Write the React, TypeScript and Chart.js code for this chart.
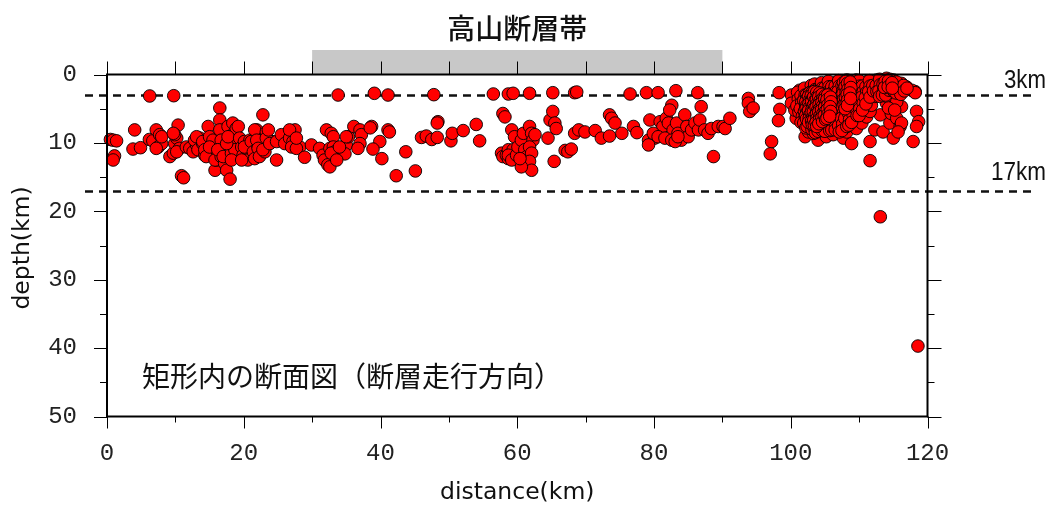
import { useEffect, useRef } from "react";
import { Chart, registerables } from "chart.js";

Chart.register(...registerables);

// Axis ranges and tick labels
const distanceTicks = [0, 20, 40, 60, 80, 100, 120];
const depthTicks = [0, 10, 20, 30, 40, 50];
// Fault zone extent along the strike (km)
const faultZoneKm = [30, 90];
// Seismogenic layer bounds (km)
const referenceDepths = [3, 17];
const referenceLabels = ["3km", "17km"];

// Hypocentres: [distance along strike (km), depth (km)]
const westEvents: [number, number][] = [
  [0.5, 9.5], [0.9, 9.6], [1.4, 9.7], [1.1, 11.9], [0.9, 12.5], [3.8, 10.9], [4.9, 10.7], [4.05, 8.1],
  [6.25, 3.14], [9.76, 3.1],
  [6.2, 9.5], [6.7, 9.7], [7.2, 8.1], [7.7, 8.8], [7.5, 10.6], [8.0, 10.1], [7.2, 10.8], [8.0, 9.1],
  [9.2, 12.0], [9.7, 11.5], [9.9, 10.1], [10.4, 7.4], [10.2, 9.3], [10.6, 10.8], [9.9, 8.8], [9.7, 8.6], [10.2, 11.3],
  [10.9, 14.8], [11.2, 15.1],
  [11.6, 10.6], [12.1, 10.8], [12.6, 11.3], [13.1, 10.3], [12.8, 9.6], [13.6, 9.3], [13.3, 11.0], [14.0, 10.1],
  [14.3, 11.8], [13.1, 9.1], [14.0, 9.8], [14.3, 11.0],
  [14.8, 7.6], [15.0, 9.1], [15.3, 10.3], [15.5, 11.3], [14.5, 12.0], [15.8, 14.0], [16.0, 12.5], [15.8, 12.5],
  [15.5, 9.6], [15.0, 10.6],
  [16.5, 4.9], [16.5, 6.65], [16.7, 8.4], [17.0, 10.1], [16.7, 12.0], [17.2, 13.0], [17.5, 14.0], [16.5, 8.1],
  [16.7, 9.6], [16.2, 11.0], [17.0, 12.0],
  [17.7, 7.6], [18.0, 9.1], [18.2, 10.3], [18.2, 11.5], [18.4, 7.1], [18.7, 8.4], [18.9, 9.6], [18.7, 11.0],
  [18.0, 15.3], [17.5, 10.1], [18.2, 12.5], [18.9, 7.9], [17.7, 9.1],
  [19.2, 7.6], [19.4, 9.3], [19.7, 10.6], [19.9, 11.8], [20.1, 9.8], [20.4, 10.8], [20.6, 12.5], [20.9, 9.6],
  [19.7, 12.5], [20.1, 10.6],
  [21.1, 9.8], [21.4, 11.3], [21.6, 12.3], [21.9, 8.1], [22.1, 10.6], [21.6, 8.1], [21.9, 9.6], [22.1, 10.8], [22.3, 12.0],
  [22.8, 5.9], [23.3, 8.4], [23.6, 9.6], [23.1, 11.3], [24.1, 9.8], [22.8, 11.0], [23.3, 9.3], [23.6, 8.1], [23.8, 10.1],
  [24.8, 12.5], [24.8, 9.8], [25.5, 8.8], [26.0, 10.1], [26.7, 9.3], [27.5, 8.1], [27.2, 9.8], [28.2, 10.6],
  [26.7, 8.1], [27.0, 10.6], [27.7, 10.8], [27.7, 9.3], [28.9, 12.1], [29.9, 10.3],
];

const centralEvents: [number, number][] = [
  [31.1, 10.8], [32.1, 8.1], [32.8, 8.6], [33.1, 9.1], [31.6, 11.8], [31.8, 12.5], [32.3, 13.2], [32.6, 10.8],
  [33.1, 10.6], [33.3, 11.3], [33.8, 11.6], [33.6, 12.0], [34.1, 11.0], [34.5, 10.6], [35.0, 10.3], [35.3, 9.1],
  [34.8, 11.6], [32.6, 13.5], [32.8, 11.5], [33.6, 12.5], [34.0, 10.6], [35.0, 9.1],
  [33.8, 3.0], [39.1, 2.75], [41.1, 3.0],
  [36.1, 7.6], [37.0, 8.1], [37.2, 8.8], [37.0, 10.1], [36.7, 10.8], [38.7, 7.6], [38.5, 7.8], [39.9, 9.8],
  [38.9, 10.9], [40.2, 12.3], [41.1, 8.1], [41.3, 8.4], [43.7, 11.3], [42.3, 14.8], [45.1, 14.1],
  [46.0, 9.2], [46.7, 9.0], [47.5, 9.5], [48.3, 9.2], [48.4, 6.9], [48.3, 7.1], [47.8, 2.95], [50.3, 9.7],
  [50.5, 8.6], [52.1, 8.2], [54.0, 7.3], [54.5, 9.7], [56.5, 2.85], [58.7, 2.85], [57.9, 5.7], [58.2, 6.2],
  [57.7, 11.5], [57.9, 12.0], [58.4, 11.8], [58.7, 12.3], [58.7, 11.0],
  [59.2, 8.1], [59.6, 9.1], [59.4, 11.0], [58.7, 11.8], [59.2, 12.5], [59.9, 11.8], [60.1, 10.6], [60.6, 9.6],
  [60.9, 8.6], [61.1, 11.0], [61.4, 12.0], [61.1, 13.0], [61.8, 7.6], [62.1, 8.6], [62.3, 9.6], [61.8, 10.6],
  [62.1, 11.5], [61.8, 12.7], [62.1, 14.0], [60.6, 13.5], [60.4, 12.3], [62.6, 8.8], [59.4, 2.75], [61.8, 2.75],
  [64.5, 9.3], [64.8, 6.65], [65.2, 5.4], [65.5, 7.1], [65.7, 7.9], [65.4, 12.7], [65.2, 2.66], [67.0, 11.1],
  [67.4, 11.3], [67.9, 10.9], [68.4, 2.66], [68.7, 2.56],
  [68.4, 8.6], [69.0, 8.1], [69.9, 8.4], [71.4, 8.2], [72.3, 9.3], [73.5, 9.0], [75.3, 8.6], [73.5, 5.9],
  [73.8, 6.4], [74.3, 7.1], [76.5, 2.85], [77.0, 7.6], [77.5, 8.5], [78.9, 2.66], [79.4, 6.65], [79.2, 9.6],
  [80.1, 9.3], [79.2, 10.3], [80.6, 2.66],
  [80.9, 6.9], [81.3, 7.6], [81.8, 6.4], [82.1, 7.1], [82.6, 4.5], [82.3, 5.2], [82.8, 8.1], [83.3, 7.1],
  [83.5, 8.6], [84.0, 9.6], [84.5, 5.9], [84.8, 7.6], [85.0, 9.1], [85.5, 8.1], [86.0, 7.1], [86.5, 8.1],
  [86.7, 6.65], [86.9, 4.7], [87.4, 8.1], [87.9, 8.6], [88.4, 7.9], [89.4, 7.6], [90.1, 7.6], [88.7, 12.0],
  [83.2, 2.37], [86.4, 2.66],
  [79.9, 8.6], [80.6, 9.1], [81.6, 9.3], [82.6, 9.6], [83.1, 9.8], [83.5, 9.1],
];

const eastEvents: [number, number][] = [
  [90.4, 7.9], [91.1, 6.4], [93.8, 3.5], [93.8, 4.2], [94.0, 5.4], [94.5, 4.9], [97.2, 9.8], [97.0, 11.6],
  [98.3, 2.66], [98.4, 5.1], [98.2, 6.75], [100.6, 3.0], [100.4, 4.2], [100.8, 6.4],
  [111.6, 9.8], [111.6, 12.6], [113.1, 20.8], [118.6, 39.7],
  [113.1, 5.9], [112.3, 8.1], [113.5, 8.4], [115.0, 9.3], [114.5, 7.1], [114.7, 5.7], [115.5, 6.4], [116.0, 7.6],
  [116.2, 4.7], [116.2, 7.1], [115.7, 8.4], [117.9, 9.8], [118.4, 5.4], [118.7, 6.9], [118.4, 7.6], [118.2, 2.5],
  [114.0, 4.2], [114.5, 3.7], [115.0, 3.2], [115.5, 4.0], [114.3, 4.9], [115.2, 5.2],
  [102.1, 9.1], [102.6, 8.4], [104.0, 9.6], [103.3, 8.6], [105.2, 9.1], [106.2, 8.8], [107.7, 9.3], [108.9, 10.1],
  [108.2, 8.4], [109.6, 7.9], [110.4, 7.1], [111.1, 6.2], [111.6, 5.4], [111.8, 4.5], [112.3, 3.2],
  [104.3, 1.5], [105.2, 1.3], [106.5, 1.2], [108.2, 0.8], [109.6, 0.8], [111.1, 1.05], [112.6, 0.8], [114.0, 0.55],
  [115.0, 0.8], [116.2, 1.3], [116.9, 1.8], [117.7, 2.3], [118.2, 2.66],
  [100.1, 3.0], [101.3, 2.3], [102.6, 2.3], [103.3, 1.8], [100.1, 4.2], [100.6, 5.2],
];

// Swarm in the eastern segment
const swarmEvents: [number, number][] = [
  [101.0, 2.6], [101.1, 3.6], [100.9, 4.6], [101.2, 5.5],
  [101.5, 3.1], [101.6, 4.1], [101.4, 5.0], [101.7, 6.1], [101.5, 7.0],
  [102.0, 2.0], [102.1, 3.0], [101.9, 3.8], [102.2, 4.6], [102.0, 5.4], [102.1, 6.2], [101.9, 7.1], [102.2, 7.8],
  [102.5, 2.9], [102.6, 3.6], [102.4, 4.4], [102.7, 5.2], [102.5, 6.0], [102.6, 6.8], [102.4, 7.6],
  [103.0, 1.6], [103.1, 2.4], [102.9, 3.1], [103.2, 3.8], [103.0, 4.5], [103.1, 5.2], [102.9, 5.9], [103.2, 6.6],
  [103.0, 7.3], [103.1, 8.0],
  [103.5, 1.4], [103.6, 2.2], [103.4, 3.0], [103.6, 3.6], [103.5, 4.2], [103.7, 4.8], [103.4, 5.4], [103.6, 6.0],
  [103.5, 6.6], [103.7, 7.2], [103.4, 7.8], [103.6, 8.5],
  [104.0, 2.1], [104.1, 2.9], [103.9, 3.5], [104.2, 4.1], [104.0, 4.7], [104.1, 5.3], [103.9, 5.9], [104.2, 6.5],
  [104.0, 7.1], [104.1, 7.7], [104.0, 8.3],
  [104.5, 1.2], [104.6, 2.0], [104.4, 2.8], [104.6, 3.4], [104.5, 4.0], [104.7, 4.6], [104.4, 5.2], [104.6, 5.8],
  [104.5, 6.4], [104.7, 7.0], [104.4, 7.6], [104.6, 8.2],
  [105.0, 1.9], [105.1, 2.7], [104.9, 3.3], [105.2, 3.9], [105.0, 4.5], [105.1, 5.1], [104.9, 5.7], [105.2, 6.3],
  [105.0, 6.9], [105.1, 7.5], [105.0, 8.3],
  [105.5, 1.0], [105.6, 1.8], [105.4, 2.6], [105.6, 3.4], [105.5, 4.2], [105.7, 5.0], [105.4, 5.8], [105.6, 6.6],
  [105.5, 7.4], [105.7, 8.2],
  [106.0, 1.8], [106.1, 2.6], [105.9, 3.4], [106.2, 4.2], [106.0, 5.0], [106.1, 5.8], [105.9, 6.6], [106.2, 7.4], [106.0, 8.1],
  [106.5, 1.7], [106.6, 2.5], [106.4, 3.3], [106.6, 4.1], [106.5, 4.9], [106.7, 5.7], [106.4, 6.5], [106.6, 7.3], [106.5, 8.1],
  [107.0, 0.9], [107.1, 1.7], [106.9, 2.5], [107.2, 3.3], [107.0, 4.1], [107.1, 4.9], [106.9, 5.7], [107.2, 6.5],
  [107.0, 7.5], [107.1, 8.4],
  [107.5, 1.6], [107.6, 2.4], [107.4, 3.2], [107.6, 4.0], [107.5, 4.8], [107.7, 5.6], [107.4, 6.4], [107.6, 7.2], [107.5, 8.2],
  [108.0, 1.6], [108.1, 2.4], [107.9, 3.2], [108.2, 4.0], [108.0, 4.8], [108.1, 5.6], [107.9, 6.4], [108.2, 7.6],
  [108.5, 0.9], [108.6, 1.6], [108.4, 2.4], [108.6, 3.2], [108.5, 4.0], [108.7, 4.8], [108.4, 5.6], [108.6, 6.6], [108.5, 7.4],
  [109.0, 1.6], [109.1, 2.4], [108.9, 3.2], [109.2, 4.0], [109.0, 4.8], [109.1, 5.8], [108.9, 7.0],
  [109.5, 1.6], [109.6, 2.4], [109.4, 3.2], [109.6, 4.0], [109.5, 5.0], [109.7, 6.0],
  [110.0, 0.9], [110.1, 1.7], [109.9, 2.5], [110.2, 3.3], [110.0, 4.1], [110.1, 5.0], [110.0, 6.0],
  [110.5, 1.7], [110.6, 2.5], [110.4, 3.3], [110.6, 4.2], [110.5, 5.2],
  [111.0, 1.8], [111.1, 2.6], [110.9, 3.4], [111.0, 4.3],
  [111.5, 0.9], [111.6, 1.7], [111.4, 2.5], [111.6, 3.3],
  [112.0, 1.6], [112.1, 2.4], [112.5, 1.6], [112.6, 2.5],
  [113.0, 0.7], [113.1, 1.5], [112.9, 2.4], [113.0, 3.2],
  [113.5, 1.4], [113.6, 2.2], [113.4, 3.0],
  [114.0, 1.4], [114.1, 2.2], [113.9, 3.0],
  [114.5, 0.7], [114.6, 1.5], [114.4, 2.3],
  [115.0, 1.7], [115.1, 2.5], [115.5, 1.1], [115.6, 1.9], [115.4, 2.7],
  [116.0, 2.1], [116.1, 2.9], [116.5, 1.6], [116.6, 2.4], [117.0, 2.0],
];

// Densest part of the swarm
const swarmCoreEvents: [number, number][] = [
  [102.3, 3.0], [102.4, 3.5], [102.2, 4.0], [102.35, 4.5], [102.25, 5.0], [102.4, 5.5], [102.2, 6.0], [102.3, 6.5],
  [102.75, 2.7], [102.6, 3.2], [102.8, 3.7], [102.65, 4.3], [102.75, 4.8], [102.6, 5.3], [102.8, 5.9], [102.7, 6.4], [102.6, 7.0],
  [103.15, 2.6], [103.0, 3.1], [103.2, 3.5], [103.05, 4.0], [103.25, 4.6], [103.1, 5.1], [103.0, 5.6], [103.2, 6.2],
  [103.05, 6.8], [103.15, 7.3],
  [103.45, 2.5], [103.35, 3.3], [103.55, 3.8], [103.4, 4.4], [103.5, 4.9], [103.3, 5.5], [103.5, 6.1], [103.35, 6.7], [103.45, 7.4],
  [103.8, 2.6], [103.9, 3.2], [103.75, 3.7], [103.85, 4.3], [103.7, 4.8], [103.9, 5.3], [103.75, 5.8], [103.85, 6.4],
  [103.7, 7.0], [103.8, 7.6],
  [104.25, 2.7], [104.1, 3.3], [104.3, 3.8], [104.15, 4.4], [104.25, 5.0], [104.1, 5.5], [104.3, 6.0], [104.2, 6.6], [104.1, 7.2],
  [104.6, 2.9], [104.7, 3.5], [104.55, 4.1], [104.65, 4.6], [104.5, 5.2], [104.7, 5.7], [104.55, 6.3], [104.65, 6.9],
  [105.05, 3.1], [104.95, 3.6], [105.1, 4.2], [104.95, 4.8], [105.05, 5.4], [104.9, 6.0], [105.1, 6.6],
  [105.4, 3.0], [105.3, 3.7], [105.45, 4.4], [105.35, 5.1], [105.45, 5.8], [105.3, 6.4],
  [105.8, 3.3], [105.9, 4.0], [105.75, 4.7], [105.85, 5.4], [105.7, 6.1],
  [107.7, 1.2], [107.8, 2.0], [107.65, 2.8], [107.75, 3.6], [107.8, 4.4],
  [108.05, 1.0], [107.95, 1.8], [108.1, 2.6], [108.0, 3.4], [108.1, 4.2], [107.95, 5.0],
  [108.3, 1.3], [108.4, 2.1], [108.25, 2.9], [108.35, 3.7], [108.3, 4.5],
  [108.7, 1.1], [108.8, 1.9], [108.65, 2.7], [108.75, 3.5],
  [113.8, 1.0], [113.7, 1.9], [114.3, 0.9], [114.25, 1.8], [114.8, 1.2], [114.85, 2.0],
];

const allEvents = [...westEvents, ...centralEvents, ...eastEvents, ...swarmEvents, ...swarmCoreEvents];

const CJK = "'Noto Sans CJK JP', 'Noto Sans', sans-serif";
const MONO = "'Liberation Mono', 'DejaVu Sans Mono', monospace";

const sectionDecor = {
  id: "sectionDecor",
  beforeDatasetsDraw(chart: any) {
    const { ctx, chartArea: a, scales } = chart;
    const xs = scales.x;
    const ys = scales.y;
    ctx.save();
    // fault zone bar above the frame
    const bx0 = xs.getPixelForValue(faultZoneKm[0]);
    const bx1 = xs.getPixelForValue(faultZoneKm[1]);
    ctx.fillStyle = "#c8c8c8";
    ctx.fillRect(bx0, a.top - 24.5, bx1 - bx0, 24.5);
    // dashed reference depths
    ctx.strokeStyle = "#111";
    ctx.lineWidth = 2.5;
    ctx.setLineDash([8, 6]);
    referenceDepths.forEach((d) => {
      const py = Math.round(ys.getPixelForValue(d)) + 0.5;
      ctx.beginPath();
      ctx.moveTo(85, py);
      ctx.lineTo(1037, py);
      ctx.stroke();
    });
    ctx.restore();
  },
  afterDatasetsDraw(chart: any) {
    const { ctx, chartArea: a, scales } = chart;
    const xs = scales.x;
    const ys = scales.y;
    ctx.save();
    // frame
    ctx.strokeStyle = "#000";
    ctx.lineWidth = 2;
    ctx.strokeRect(a.left, a.top, a.right - a.left, a.bottom - a.top);
    // ticks
    ctx.lineWidth = 1;
    ctx.beginPath();
    for (let v = 0; v <= 120; v += 10) {
      const px = Math.round(xs.getPixelForValue(v)) + 0.5;
      const major = v % 20 === 0;
      ctx.moveTo(px, a.bottom);
      ctx.lineTo(px, a.bottom + (major ? 12 : 6));
      ctx.moveTo(px, a.top);
      ctx.lineTo(px, a.top - 13);
    }
    for (let d = 0; d <= 50; d += 5) {
      const py = Math.round(ys.getPixelForValue(d)) + 0.5;
      const major = d % 10 === 0;
      ctx.moveTo(a.left, py);
      ctx.lineTo(a.left - (major ? 13 : 7), py);
      ctx.moveTo(a.right, py);
      ctx.lineTo(a.right + (major ? 14 : 7), py);
    }
    ctx.stroke();

    ctx.fillStyle = "#111";
    // title
    ctx.font = `500 28px ${CJK}`;
    ctx.textAlign = "center";
    ctx.textBaseline = "middle";
    ctx.fillText("高山断層帯", (a.left + a.right) / 2, 28);
    // axis titles
    ctx.font = `23.5px 'DejaVu Sans', sans-serif`;
    ctx.fillText("distance(km)", (a.left + a.right) / 2, 493);
    ctx.save();
    ctx.translate(23, 248);
    ctx.rotate(-Math.PI / 2);
    ctx.fillText("depth(km)", 0, 0);
    ctx.restore();
    // annotation
    ctx.font = `28px ${CJK}`;
    ctx.textAlign = "left";
    ctx.fillText("矩形内の断面図（断層走行方向）", 142, 376);
    // reference depth labels
    ctx.font = `26px 'Liberation Sans', sans-serif`;
    ctx.textAlign = "right";
    ctx.textBaseline = "alphabetic";
    ctx.fillText(referenceLabels[0], 1046, 88, 42);
    ctx.fillText(referenceLabels[1], 1046, 180, 55);
    ctx.restore();
  },
};

export default function App() {
  const canvasRef = useRef<HTMLCanvasElement | null>(null);

  useEffect(() => {
    const canvas = canvasRef.current;
    if (!canvas) return;
    const chart = new Chart(canvas, {
      type: "scatter",
      data: {
        datasets: [
          {
            label: "hypocentres",
            data: allEvents.map(([x, y]) => ({ x, y })),
            backgroundColor: "#ff0000",
            borderColor: "#000000",
            borderWidth: 0.9,
            pointRadius: 6.3,
            pointHoverRadius: 6.3,
            clip: false as any,
          },
        ],
      },
      plugins: [sectionDecor],
      options: {
        responsive: false,
        maintainAspectRatio: false,
        animation: false,
        devicePixelRatio: 1,
        layout: { padding: { top: 74.5, right: 123.5, left: 0, bottom: 0 } },
        plugins: {
          legend: { display: false },
          tooltip: { enabled: false },
          title: { display: false },
        },
        scales: {
          x: {
            type: "linear",
            min: 0,
            max: 120,
            afterFit: (s: any) => {
              s.height = 92.5;
            },
            afterBuildTicks: (s: any) => {
              s.ticks = distanceTicks.map((v) => ({ value: v }));
            },
            grid: { display: false, drawTicks: false },
            border: { display: false },
            ticks: {
              padding: 23,
              color: "#222",
              font: { family: MONO, size: 24 },
              maxRotation: 0,
              autoSkip: false,
            },
          },
          y: {
            type: "linear",
            reverse: true,
            min: 0,
            max: 50,
            afterFit: (s: any) => {
              s.width = 107;
            },
            afterBuildTicks: (s: any) => {
              s.ticks = depthTicks.map((v) => ({ value: v }));
            },
            grid: { display: false, drawTicks: false },
            border: { display: false },
            ticks: {
              padding: 30,
              color: "#222",
              font: { family: MONO, size: 24 },
              autoSkip: false,
            },
          },
        },
      },
    });
    return () => chart.destroy();
  }, []);

  return (
    <div style={{ position: "absolute", left: 0, top: 0, width: 1051, height: 509, background: "#fff" }}>
      <canvas ref={canvasRef} width={1051} height={509} style={{ display: "block" }} />
    </div>
  );
}
